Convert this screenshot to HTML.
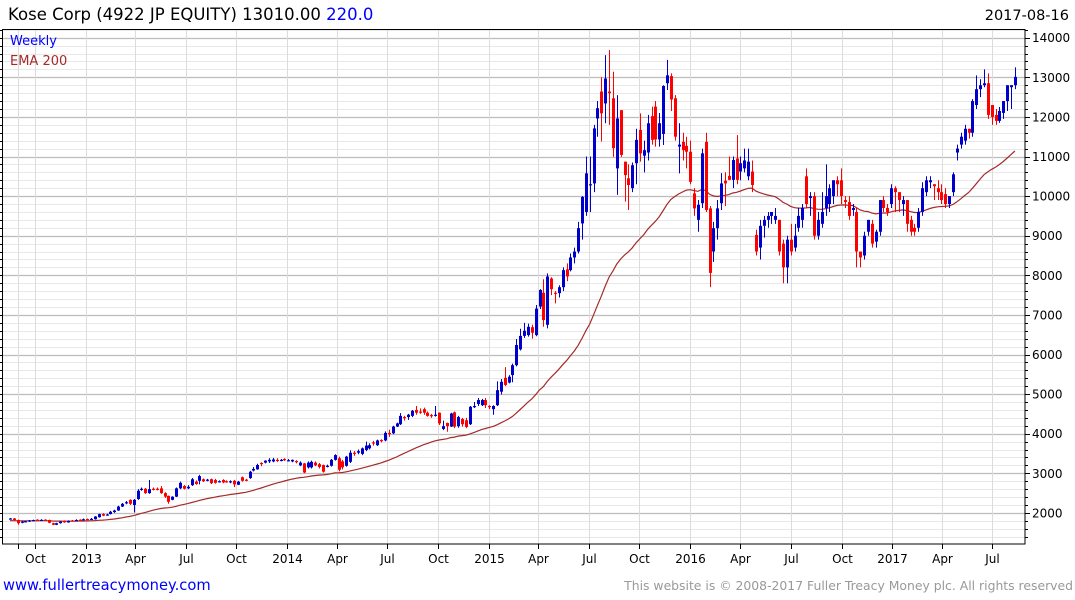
<!DOCTYPE html>
<html><head><meta charset="utf-8"><style>
html,body{margin:0;padding:0;background:#fff;}
svg{display:block;font-family:"DejaVu Sans","Liberation Sans",sans-serif;}
</style></head><body>
<svg id="chart" width="1075" height="600" viewBox="0 0 1075 600" xmlns="http://www.w3.org/2000/svg">
<text x="8" y="20" font-size="16.5" fill="#000">Kose Corp (4922 JP EQUITY) 13010.00 <tspan fill="#0000ff">220.0</tspan></text>
<text x="1069" y="20" font-size="14.5" fill="#000" text-anchor="end">2017-08-16</text>
<g id="grid"></g>
<g id="ema"></g>
<g id="candles"></g>
<g id="axes"></g>
<rect x="2.5" y="29.5" width="1022.5" height="514.5" fill="none" stroke="#000" stroke-width="1"/>
<text x="10" y="45" font-size="13" fill="#0000ff">Weekly</text>
<text x="10" y="65" font-size="13" fill="#a52a2a">EMA 200</text>
<text x="3" y="590" font-size="14.7" fill="#0000ff">www.fullertreacymoney.com</text>
<text x="1073" y="590" font-size="12.4" fill="#999" text-anchor="end">This website is © 2008-2017 Fuller Treacy Money plc. All rights reserved</text>
</svg>
<script>
const opens = [1840,1860,1820,1760,1770,1780,1800,1830,1810,1830,1820,1740,1700,1740,1800,1760,1810,1810,1830,1830,1845,1840,1840,1890,1970,1940,1970,2020,2060,2160,2240,2330,2200,2350,2580,2610,2500,2610,2610,2620,2500,2430,2330,2410,2620,2680,2620,2700,2790,2810,2850,2820,2850,2830,2790,2830,2800,2780,2810,2710,2900,2840,2880,3070,3100,3260,3270,3300,3300,3340,3320,3360,3330,3300,3310,3200,3250,3150,3150,3270,3230,3210,3180,3190,3340,3380,3300,3190,3290,3520,3520,3490,3590,3630,3780,3710,3840,3830,4020,4010,4180,4240,4420,4420,4450,4600,4560,4620,4530,4470,4460,4530,4120,4270,4180,4540,4190,4370,4340,4240,4680,4750,4720,4850,4700,4620,4720,5060,5410,5290,5480,5730,6130,6470,6490,6690,6490,7210,7560,6750,7920,7560,7550,7700,8150,8130,8450,8600,9310,9600,10300,10320,11960,12640,12340,12640,12470,10700,12170,10870,10450,10200,10830,11670,11020,11100,12020,12260,11430,11570,12850,13030,12470,11250,11370,11270,11120,10070,9400,9820,11370,9690,8600,9190,9820,10390,10510,10410,10950,10620,10700,10500,10620,9020,8700,9250,9400,9500,9400,9400,8800,8200,8900,8700,9200,9400,10500,9950,10000,9000,9300,9700,9800,10000,10400,10400,9900,9850,9650,9600,8600,8500,9100,9300,8850,9100,9900,9700,9800,10200,10100,9800,9900,9400,9200,9200,9600,10100,10350,10300,10200,10100,10050,9800,10100,11100,11300,11400,11700,11600,12300,12700,12800,12850,12300,12050,11900,12100,12400,12750,12800];
const closes = [1860,1820,1740,1780,1790,1810,1820,1815,1825,1815,1750,1700,1740,1780,1760,1800,1800,1820,1820,1840,1835,1850,1910,1970,1930,1960,2030,2060,2160,2230,2270,2230,2330,2560,2610,2500,2600,2600,2600,2500,2410,2280,2410,2620,2760,2610,2660,2850,2730,2930,2800,2840,2750,2760,2800,2770,2780,2800,2720,2790,2810,2820,3040,3110,3210,3230,3320,3340,3350,3310,3340,3350,3330,3340,3290,3270,3020,3270,3290,3200,3160,3040,3190,3340,3460,3090,3150,3420,3520,3500,3560,3630,3700,3710,3760,3830,3820,4020,4000,4180,4260,4450,4400,4480,4580,4530,4550,4530,4450,4440,4480,4260,4190,4190,4510,4180,4420,4240,4170,4680,4700,4850,4850,4720,4690,4700,5100,5310,5230,5440,5730,6240,6470,6600,6700,6550,7160,7630,6870,7970,7650,7530,7700,8130,7970,8450,8600,9190,9980,10575,10300,11710,12220,12090,12970,12600,11210,11960,11040,10530,10280,10780,11420,11080,11160,11840,11420,11430,11840,12780,13050,12440,11500,11300,11160,11120,10360,9690,9780,11080,9650,8060,9190,9690,10320,10320,10410,10910,10410,10830,10900,10870,10280,8600,9250,9400,9500,9600,9500,8600,8200,8900,8600,9000,9500,9700,9800,10000,9000,9400,9600,10000,10200,10400,10300,10000,9850,9500,9700,8600,8450,9000,9400,8800,9100,9900,9700,9600,10200,10100,9900,9900,9300,9100,9100,9600,10200,10400,10400,10250,10100,9900,9800,10000,10550,11200,11500,11700,11600,12400,12700,12800,12850,12050,12000,11900,12150,12400,12800,12800,13010];
const highs = [1870,1870,1830,1800,1800,1820,1830,1840,1840,1840,1830,1750,1750,1790,1810,1810,1820,1840,1840,1860,1860,1870,1920,1980,1990,1980,2050,2080,2180,2250,2300,2340,2350,2600,2640,2630,2830,2640,2640,2680,2520,2440,2420,2640,2790,2700,2700,2880,2820,2960,2870,2860,2870,2860,2820,2850,2820,2820,2830,2810,2920,2860,3060,3160,3240,3280,3330,3380,3390,3380,3360,3380,3360,3350,3330,3300,3260,3300,3320,3300,3260,3220,3220,3360,3480,3420,3340,3440,3580,3560,3600,3650,3800,3760,3820,3850,3860,4060,4100,4200,4280,4520,4450,4500,4600,4700,4640,4660,4560,4500,4700,4540,4330,4280,4530,4560,4450,4400,4400,4700,4800,4900,4880,4900,4720,4720,5320,5380,5680,5480,5770,6390,6650,6800,6780,6750,7250,7650,7900,8050,7950,7600,7750,8200,8300,8550,8700,9350,10000,11000,11000,11800,12400,13000,13560,13690,13140,12550,12170,10870,10800,10850,11700,12090,11400,12050,12260,12400,12100,12800,13440,13100,12550,11840,11600,11500,11400,10200,9900,11200,11600,9750,9350,9900,10580,10600,11000,11000,11540,11000,11200,11200,10900,9150,9400,9500,9600,9600,9700,9400,8900,9000,9300,9300,9700,9800,10700,10100,10100,9600,10100,10800,10300,10400,10500,10700,10000,10000,9800,9700,8600,9100,9400,9400,9150,9900,10000,9800,10300,10250,10100,10000,9900,9500,9300,9700,10350,10500,10500,10300,10400,10300,10200,10000,10600,11300,11600,11800,11700,12450,13050,12950,13200,13100,12300,12200,12250,12400,12800,12800,13250];
const lows = [1830,1810,1700,1740,1760,1770,1790,1800,1800,1800,1740,1690,1690,1730,1750,1750,1790,1800,1800,1820,1820,1830,1830,1880,1920,1930,1960,2000,2050,2150,2220,2200,2010,2330,2560,2480,2480,2570,2570,2480,2380,2230,2320,2400,2600,2590,2600,2680,2710,2720,2780,2800,2730,2740,2770,2750,2760,2750,2650,2700,2790,2800,2860,3050,3090,3180,3250,3260,3280,3290,3300,3310,3300,3280,3250,3180,3000,3120,3120,3180,3120,3020,3150,3170,3320,3050,3100,3170,3260,3440,3480,3460,3560,3600,3700,3690,3780,3810,3920,3990,4170,4220,4330,4350,4420,4480,4500,4480,4430,4400,4430,4220,4090,4050,4170,4140,4150,4180,4140,4220,4650,4700,4700,4650,4620,4480,4700,4990,5200,5270,5300,5700,6100,6420,6450,6400,6460,7150,6700,6660,7500,7290,7440,7600,7850,8100,8300,8550,8900,9500,9600,10100,11500,11380,11840,11800,10990,10030,10990,9860,9650,10100,10300,10870,10600,10900,11300,11250,11250,11290,12680,12150,11400,10575,10900,10700,10300,9500,9100,9700,9600,7700,8340,8900,9650,9750,10400,10200,10300,10400,10600,10400,10100,8500,8400,8950,9200,9300,9300,8500,7800,7800,8500,8600,9100,9200,9700,9500,8900,8900,9200,9500,9600,9800,10000,9800,9700,9400,9500,8200,8200,8400,9000,8700,8700,9000,9600,9500,9700,9600,9600,9500,9100,9000,9000,9100,9500,10000,10200,9900,9900,9800,9700,9700,10000,10900,11200,11300,11450,11500,12200,12500,12750,11950,11800,11800,11850,11950,12150,12200,12700];
const emaSeed = 1800;
const emaPeriodWeeks = 42;
const yTicks = [2000,3000,4000,5000,6000,7000,8000,9000,10000,11000,12000,13000,14000];
const xTickDates = ["2012-09-01","2012-10-01","2013-01-01","2013-04-01","2013-07-01","2013-10-01","2014-01-01","2014-04-01","2014-07-01","2014-10-01","2015-01-01","2015-04-01","2015-07-01","2015-10-01","2016-01-01","2016-04-01","2016-07-01","2016-10-01","2017-01-01","2017-04-01","2017-07-01"];
const xTickLabels = ["","Oct","2013","Apr","Jul","Oct","2014","Apr","Jul","Oct","2015","Apr","Jul","Oct","2016","Apr","Jul","Oct","2017","Apr","Jul"];
const firstWeek = "2012-08-17";

const NS = "http://www.w3.org/2000/svg";
const X0 = 10, DX = 3.865;
const xAt = i => X0 + i * DX;
const yAt = v => 37.7 + (14000 - v) * 0.0396;
const PL = 2.5, PR = 1025, PT = 29.5, PB = 544;
const t0 = new Date(firstWeek + "T00:00:00Z").getTime();
const weekIdx = d => (new Date(d + "T00:00:00Z").getTime() - t0) / (7 * 86400000);
function mk(tag, attrs, parent) {
  const e = document.createElementNS(NS, tag);
  for (const k in attrs) e.setAttribute(k, attrs[k]);
  parent.appendChild(e);
  return e;
}
const grid = document.getElementById('grid');
const axes = document.getElementById('axes');
for (let v = 1400; v <= 14200; v += 200) {
  const y = Math.round(yAt(v)) + 0.5;
  if (y < PT || y > PB) continue;
  const major = v % 1000 === 0;
  const gl = mk('line', {x1: PL, x2: PR, y1: y, y2: y, stroke: major ? '#bdbdbd' : '#e8e8e8', 'stroke-width': major ? 1.3 : 1}, grid);
  
  
  const tk = mk('line', {x1: PR, x2: PR + (major ? 5 : 3), y1: y, y2: y, stroke: '#000'}, axes);
  
  
  const tl = mk('line', {x1: PL - 2.5, x2: PL, y1: y, y2: y, stroke: '#000'}, axes);
  
  
}
yTicks.forEach(v => {
  const t = mk('text', {x: 1032, y: yAt(v) + 4.5, 'font-size': 12, fill: '#000'}, axes);
  t.textContent = v;
  
  
});
xTickDates.forEach((d, k) => {
  const x = Math.round(xAt(weekIdx(d))) + 0.5;
  const gl = mk('line', {x1: x, x2: x, y1: PT, y2: PB, stroke: '#dcdcdc'}, grid);
  
  
  const tk = mk('line', {x1: x, x2: x, y1: PB, y2: PB + 5, stroke: '#000'}, axes);
  
  
  if (xTickLabels[k]) {
    const t = mk('text', {x: x, y: 563, 'font-size': 12, fill: '#000', 'text-anchor': 'middle'}, axes);
    t.textContent = xTickLabels[k];
    
    
  }
});
const alpha = 2 / (emaPeriodWeeks + 1);
let e = emaSeed, pts = [];
closes.forEach((c, i) => { e = e + alpha * (c - e); pts.push(xAt(i).toFixed(1) + ',' + yAt(e).toFixed(1)); });
const emaLine = mk('polyline', {points: pts.join(' '), fill: 'none', stroke: '#a52a2a', 'stroke-width': 1.2}, document.getElementById('ema'));


const cg = document.getElementById('candles');
closes.forEach((c, i) => {
  const o = opens[i], h = highs[i], l = lows[i];
  const col = c >= o ? '#0000cc' : '#ff0000';
  const x = Math.round(xAt(i));
  const g = mk('g', {}, cg);
  
  
  mk('line', {x1: x + 0.5, x2: x + 0.5, y1: yAt(h), y2: yAt(l), stroke: col, 'stroke-width': 1}, g);
  const top = yAt(Math.max(o, c)), bot = yAt(Math.min(o, c));
  mk('rect', {x: x - 1, y: top, width: 3, height: Math.max(1.2, bot - top), fill: col}, g);
});
</script>
</body></html>
